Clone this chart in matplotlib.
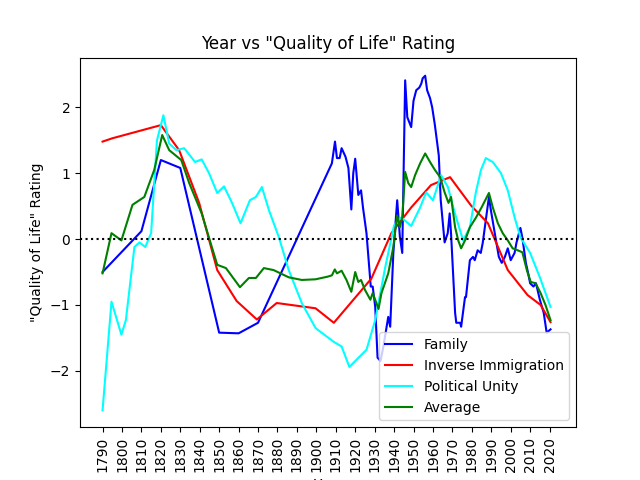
import matplotlib
matplotlib.use("Agg")
import matplotlib.pyplot as plt

fam_x = [1790,1810,1820,1830,1850,1860,1870,1908,1909.6,1910.6,1912,1913,1915,1916.5,1918,1919,1920,1921.6,1923,1924,1925.8,1928,1929,1930.3,1931.5,1933,1934.5,1937,1938,1939.6,1941.6,1943,1944.2,1945.7,1946.8,1948.8,1950,1951.4,1953,1954,1954.7,1956,1957,1958.5,1959.6,1961,1963,1964,1966,1967.6,1968.6,1969.3,1971.4,1972,1974,1974.5,1976.5,1977,1979,1980.6,1981.5,1983,1984.6,1985.6,1986.7,1988.8,1989.8,1991.8,1993.9,1995.4,1997,1998.5,2000,2002,2003,2005,2006,2007.8,2009,2010,2011.7,2013,2015,2017,2018.5,2020.5]
fam_y = [-0.5,0.12,1.2,1.08,-1.42,-1.43,-1.27,1.15,1.48,1.23,1.23,1.38,1.25,1.08,0.45,1.0,1.22,0.67,0.74,0.48,0.09,-0.72,-0.72,-1.03,-1.8,-1.85,-1.63,-1.18,-1.33,-0.22,0.59,0.03,-0.21,2.41,1.85,1.7,2.1,2.26,2.3,2.36,2.44,2.48,2.26,2.14,2.0,1.73,1.27,0.59,-0.05,0.09,0.39,0.09,-1.12,-1.27,-1.27,-1.33,-0.88,-0.88,-0.32,-0.27,-0.32,-0.17,-0.21,-0.06,0.18,0.64,0.44,0.09,-0.27,-0.36,-0.27,-0.14,-0.32,-0.21,-0.05,0.17,0.02,-0.36,-0.52,-0.67,-0.72,-0.67,-0.92,-1.12,-1.42,-1.37]

imm_x = [1790,1795,1800,1805,1810,1815,1820,1829.4,1839.7,1849,1859,1869.4,1879.6,1899.6,1909,1928.3,1938.6,1948.8,1959,1968.8,1979.6,1988.3,1998.5,2008.7,2015.4,2020.5]
imm_y = [1.48,1.53,1.57,1.61,1.65,1.69,1.73,1.35,0.55,-0.47,-0.94,-1.22,-0.97,-1.05,-1.27,-0.6,0.09,0.48,0.82,0.94,0.51,0.24,-0.47,-0.85,-1.0,-1.26]

pol_x = [1790,1794.6,1799.7,1802,1806.4,1809,1812,1815,1818,1821.3,1824.3,1828,1832,1837.6,1841,1844.8,1849,1852.5,1856.6,1861,1865.8,1868.9,1872,1875.6,1880.7,1885.8,1892.5,1899.6,1902.7,1909,1913,1917,1921.7,1925.8,1930.3,1935.5,1940,1943.7,1948.8,1953.4,1956.5,1960,1964.2,1967.7,1971.3,1975.5,1979,1982,1984.7,1987.2,1990.8,1995,1998.5,2002,2005,2010,2015,2020.5]
pol_y = [-2.6,-0.95,-1.45,-1.23,-0.12,-0.05,-0.12,0.09,1.5,1.88,1.45,1.35,1.38,1.17,1.21,1.0,0.7,0.8,0.55,0.24,0.59,0.64,0.79,0.44,0.03,-0.47,-0.97,-1.35,-1.42,-1.56,-1.63,-1.94,-1.8,-1.68,-1.23,-0.42,0.21,0.33,0.2,0.48,0.71,0.59,0.97,0.79,0.39,-0.02,0.18,0.7,1.05,1.23,1.17,1.0,0.74,0.33,0.03,-0.21,-0.58,-1.03]

avg_x = [1790,1794.6,1799.7,1805.4,1811.5,1816.6,1820.7,1824.3,1830.5,1834.6,1841,1849,1853.5,1860.7,1865.3,1868.9,1873,1878,1885.8,1892.5,1899.6,1905.8,1908,1909.5,1910.6,1913,1915.5,1918,1920,1921.6,1923,1925,1927.8,1929,1932,1933.5,1937,1939.6,1941.6,1943,1944.2,1945.7,1947.3,1948.8,1950.8,1953.4,1956,1958.5,1961,1963.7,1966,1968,1969.3,1971.4,1973,1974.5,1976.5,1979,1982,1985,1988.8,1990.8,1993.4,1995.9,1998.5,2001,2003.6,2006,2008.3,2010.3,2012.8,2015.4,2017.9,2020.5]
avg_y = [-0.52,0.09,-0.02,0.52,0.64,1.05,1.58,1.35,1.2,0.85,0.39,-0.39,-0.44,-0.73,-0.59,-0.59,-0.44,-0.47,-0.58,-0.62,-0.61,-0.57,-0.55,-0.46,-0.52,-0.48,-0.62,-0.8,-0.5,-0.65,-0.62,-0.77,-0.92,-0.82,-1.06,-0.82,-0.52,-0.12,0.36,0.18,0.33,1.02,0.85,0.79,0.97,1.15,1.3,1.17,1.05,0.94,0.71,0.55,0.64,0.18,-0.02,-0.14,-0.02,0.18,0.32,0.48,0.7,0.48,0.24,0.09,-0.02,-0.14,-0.17,-0.2,-0.47,-0.65,-0.67,-0.82,-1.0,-1.23]

ticks = list(range(1790, 2021, 10))

fig, ax = plt.subplots(figsize=(6.4, 4.8), dpi=100)
ax.plot(fam_x, fam_y, color="blue", label="Family")
ax.plot(imm_x, imm_y, color="red", label="Inverse Immigration")
ax.plot(pol_x, pol_y, color="cyan", label="Political Unity")
ax.plot(avg_x, avg_y, color="green", label="Average")
ax.axhline(0, color="black", linestyle=":", linewidth=1.5)
ax.set_xlim(1778.4, 2033.6)
ax.set_ylim(-2.855, 2.755)
ax.set_xticks(ticks)
ax.set_xticklabels([str(t) for t in ticks], rotation=90)
ax.set_yticks([-2, -1, 0, 1, 2])
ax.set_title('Year vs "Quality of Life" Rating')
ax.set_xlabel("Year")
ax.set_ylabel('"Quality of Life" Rating')
ax.legend(loc="lower right")
fig.savefig("out.png")
